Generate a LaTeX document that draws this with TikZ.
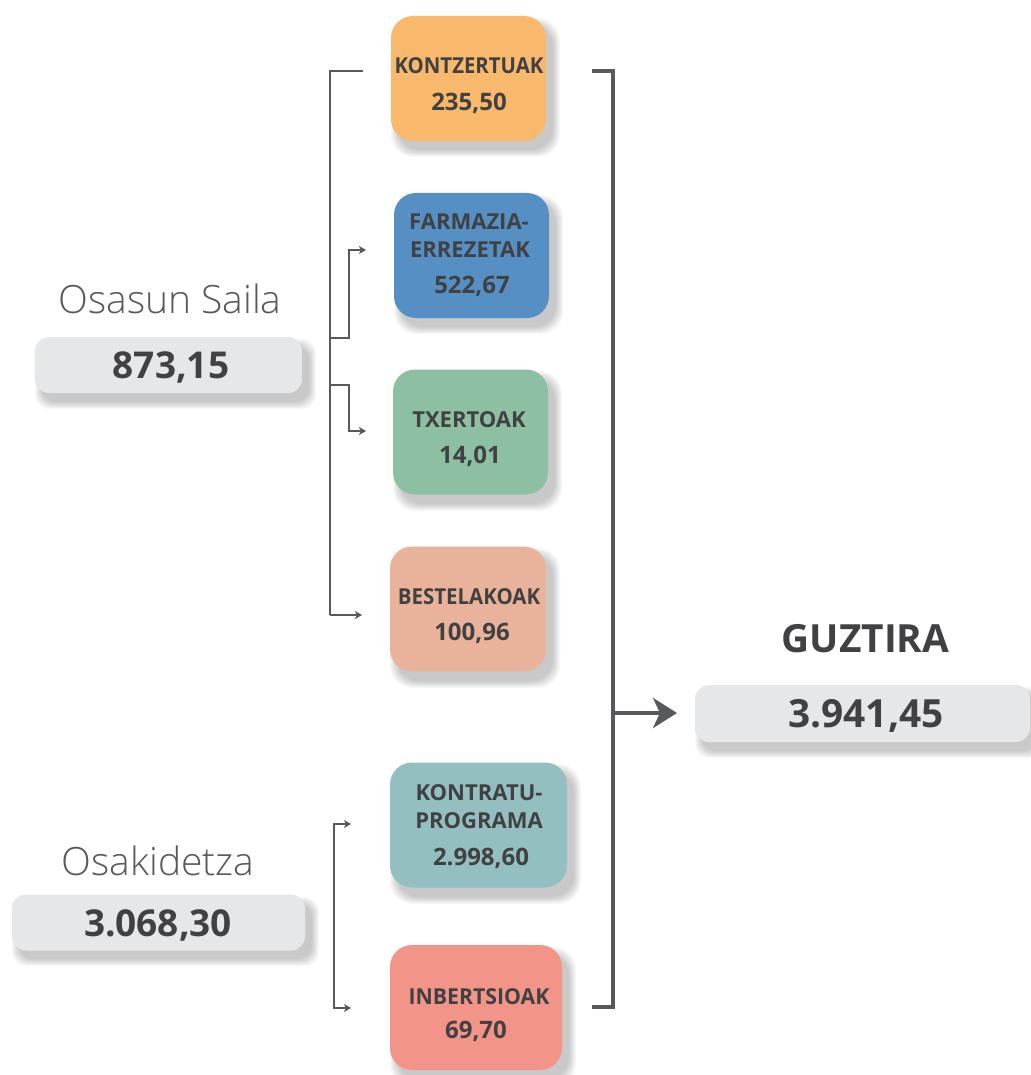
\documentclass[tikz,border=0pt]{standalone}
\usepackage{fontspec}
\setmainfont{Open Sans}
\newfontfamily\lightfont{Open Sans Light}
\usetikzlibrary{arrows.meta}
\definecolor{cOrange}{HTML}{F9B96C}
\definecolor{cBlue}{HTML}{558FC3}
\definecolor{cGreen}{HTML}{8DBFA2}
\definecolor{cSalmon}{HTML}{E8B39A}
\definecolor{cTeal}{HTML}{94BFC0}
\definecolor{cRed}{HTML}{F29488}
\definecolor{cGrayBox}{HTML}{E6E7E8}
\definecolor{cText}{HTML}{414042}
\definecolor{cLine}{HTML}{58595B}
\newcommand\softshadow[5]{%
  \foreach \i in {0,...,7}{%
    \fill[black,opacity=0.026,rounded corners=#5] (#1+7-\i,#2+9-\i) rectangle (#3+7+\i,#4+9+\i);}}
\tikzset{
  colbox/.style={rounded corners=22pt,draw=none,minimum width=#1,minimum height=125pt,inner sep=0pt},
  graybox/.style={rounded corners=14pt,fill=cGrayBox,draw=none,inner sep=0pt,minimum height=56pt},
  lbl/.style={anchor=base,text=cText,font=\fontsize{22}{26}\selectfont\bfseries,inner sep=0pt},
  num/.style={anchor=base,text=cText,font=\fontsize{24}{28}\selectfont\bfseries,inner sep=0pt},
  bignum/.style={anchor=base,text=cText,font=\fontsize{37}{40}\selectfont\bfseries,inner sep=0pt},
  biglbl/.style={anchor=base,text=cLine,font=\fontsize{39}{42}\selectfont\lightfont,inner sep=0pt},
  thin/.style={draw=cLine,line width=1.3pt,-{Stealth[length=7pt,width=8pt,inset=2pt]}},
  thinplain/.style={draw=cLine,line width=1.3pt},
  thick/.style={draw=cLine,line width=4pt},
}
\begin{document}
\begin{tikzpicture}[x=1pt,y=-1pt]
\useasboundingbox (0,0) rectangle (1030,1075);
\fill[white] (0,0) rectangle (1030,1075);
% shadows
\softshadow{391}{16}{546}{141}{22pt}
\softshadow{394}{193}{549}{318}{22pt}
\softshadow{393}{369}{548}{495}{22pt}
\softshadow{390}{546}{546}{672}{22pt}
\softshadow{390}{762}{567}{888}{22pt}
\softshadow{390}{945}{562}{1070}{22pt}
\softshadow{35}{337}{302}{393}{14pt}
\softshadow{12}{895}{305}{950}{14pt}
\softshadow{695}{685}{1030}{742}{14pt}
% colored boxes
\node[colbox=155pt,fill=cOrange] (k) at (468.5,78.5) {};
\node[colbox=155pt,fill=cBlue] (f) at (471.5,255.5) {};
\node[colbox=155pt,fill=cGreen] (t) at (470.5,432) {};
\node[colbox=156pt,fill=cSalmon] (b) at (468,609) {};
\node[colbox=177pt,fill=cTeal] (p) at (478.5,825) {};
\node[colbox=172pt,fill=cRed] (i) at (476,1007.5) {};
% box labels
\node[lbl,xscale=0.925] (k1) at (469,74) {KONTZERTUAK};
\node[num] (k2) at (469,110.5) {235,50};
\node[lbl] (f1) at (469,229.5) {FARMAZIA-};
\node[lbl] (f2) at (470,257.5) {ERREZETAK};
\node[num] (f3) at (472,293) {522,67};
\node[lbl] (t1) at (469,427) {TXERTOAK};
\node[num] (t2) at (470,463) {14,01};
\node[lbl,xscale=0.93] (b1) at (469,604) {BESTELAKOAK};
\node[num] (b2) at (472,640) {100,96};
\node[lbl] (p1) at (479,800.5) {KONTRATU-};
\node[lbl] (p2) at (479,828) {PROGRAMA};
\node[num] (p3) at (481,865) {2.998,60};
\node[lbl,xscale=0.965] (i1) at (479,1004) {INBERTSIOAK};
\node[num] (i2) at (476,1038) {69,70};
% left groups
\node[biglbl] (os) at (170,313) {Osasun Saila};
\node[graybox,minimum width=267pt] (osb) at (168.5,365) {};
\node[bignum] (osn) at (171,378) {873,15};
\node[biglbl] (ok) at (158,875) {Osakidetza};
\node[graybox,minimum width=293pt] (okb) at (158.5,922.5) {};
\node[bignum] (okn) at (158,936) {3.068,30};
% total
\node[anchor=base,text=cText,font=\fontsize{38.8}{42}\selectfont\bfseries,inner sep=0pt] (gz) at (865.5,652) {GUZTIRA};
\node[graybox,minimum width=335pt,minimum height=57pt] (gzb) at (862.5,713.5) {};
\node[anchor=base,text=cText,font=\fontsize{38.8}{42}\selectfont\bfseries,inner sep=0pt] (gzn) at (866,727.5) {3.941,45};
% left connectors (Osasun Saila)
\coordinate (s0) at (363,71);
\coordinate (sv) at (330,71);
\coordinate (sb) at (330,615);
\coordinate (sbe) at (362,615);
\coordinate (s1) at (330,338);
\coordinate (s1a) at (349,338);
\coordinate (s1b) at (349,250);
\coordinate (s1e) at (366,250);
\coordinate (s2) at (330,385);
\coordinate (s2a) at (349,385);
\coordinate (s2b) at (349,431);
\coordinate (s2e) at (366,431);
\draw[thinplain] (s0) -- (sv) -- (sb);
\draw[thin] (sb) -- (sbe);
\draw[thin] (s1) -- (s1a) -- (s1b) -- (s1e);
\draw[thin] (s2) -- (s2a) -- (s2b) -- (s2e);
% left connectors (Osakidetza)
\coordinate (o1) at (334,824);
\coordinate (o2) at (334,1008);
\coordinate (o1e) at (351,824);
\coordinate (o2e) at (351,1008);
\draw[thin] (o2) -- (o1) -- (o1e);
\draw[thin] (o1) -- (o2) -- (o2e);
% right bracket
\coordinate (r0) at (592,71);
\coordinate (r1) at (613,71);
\coordinate (r2) at (613,1007);
\coordinate (r3) at (592,1007);
\coordinate (rm) at (613,713);
\coordinate (re) at (677,713);
\draw[thick] (r0) -- (r1) -- (r2) -- (r3);
\draw[thick,-{Stealth[length=24pt,width=30pt,inset=7pt]}] (rm) -- (re);
\end{tikzpicture}
\end{document}
